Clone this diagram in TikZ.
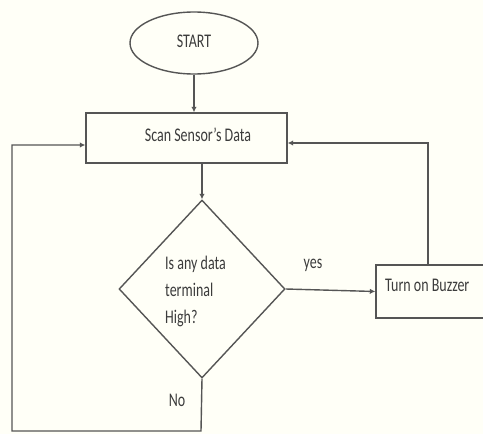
\documentclass[tikz,border=0pt]{standalone}
\usepackage{fontspec}
\setmainfont{Carlito}
\usetikzlibrary{shapes.geometric,arrows.meta}
\newcommand\vstr[1]{\scalebox{1}[1.38]{#1}}
\definecolor{ln}{HTML}{555555}
\definecolor{tx}{HTML}{3C3C3C}
\begin{document}
\begin{tikzpicture}[x=1pt,y=-1pt,
  shp/.style={draw=ln,line width=1.4pt,inner sep=0pt},
  lbl/.style={text=tx,font=\fontsize{14}{20}\selectfont,inner sep=0pt},
  conn/.style={draw=ln,line width=1.4pt},
  arr/.style={conn,-{Latex[length=5.5pt,width=5.5pt]}}]
\fill[white!97!yellow] (0,0) rectangle (483,434);
\useasboundingbox (0,0) rectangle (483,434);
% shapes
\node[shp,ellipse,minimum width=128pt,minimum height=62pt] (start) at (194,43) {};
\node[shp,rectangle,minimum width=201pt,minimum height=50pt] (scan) at (186.5,138) {};
\node[shp,diamond,minimum width=166pt,minimum height=178pt] (dec) at (202,289) {};
\node[shp,rectangle,minimum width=112pt,minimum height=53pt] (buzz) at (432,291.5) {};
% texts
\node[lbl] (tstart) at (194,41) {\vstr{START}};
\node[lbl] (tscan) at (198,135) {\vstr{Scan Sensor's Data}};
\node[lbl,anchor=west,align=left] (tdec) at (165,291) {\vstr{\begin{tabular}{@{}l@{}}Is any data\\[-0.2pt]terminal\\High?\end{tabular}}};
\node[lbl,anchor=west] (tbuzz) at (385,285) {\vstr{Turn on Buzzer}};
\node[lbl] (yes) at (313,265) {\vstr{yes}};
\node[lbl] (no) at (177,400) {\vstr{No}};
% connectors
\coordinate (nb) at (201,431);
\coordinate (nl) at (12,431);
\coordinate (nt) at (12,145);
\draw[arr] (start.south) -- (start.south |- scan.north);
\draw[arr] (dec.north |- scan.south) -- (dec.north);
\draw[arr] (dec.east) -- (buzz.west);
\draw[arr] ([xshift=-4pt]buzz.north) |- ([yshift=-5pt]scan.east);
\draw[arr] (dec.south) -- (nb) -- (nl) -- (nt) -- (nt -| scan.west);
\end{tikzpicture}
\end{document}
